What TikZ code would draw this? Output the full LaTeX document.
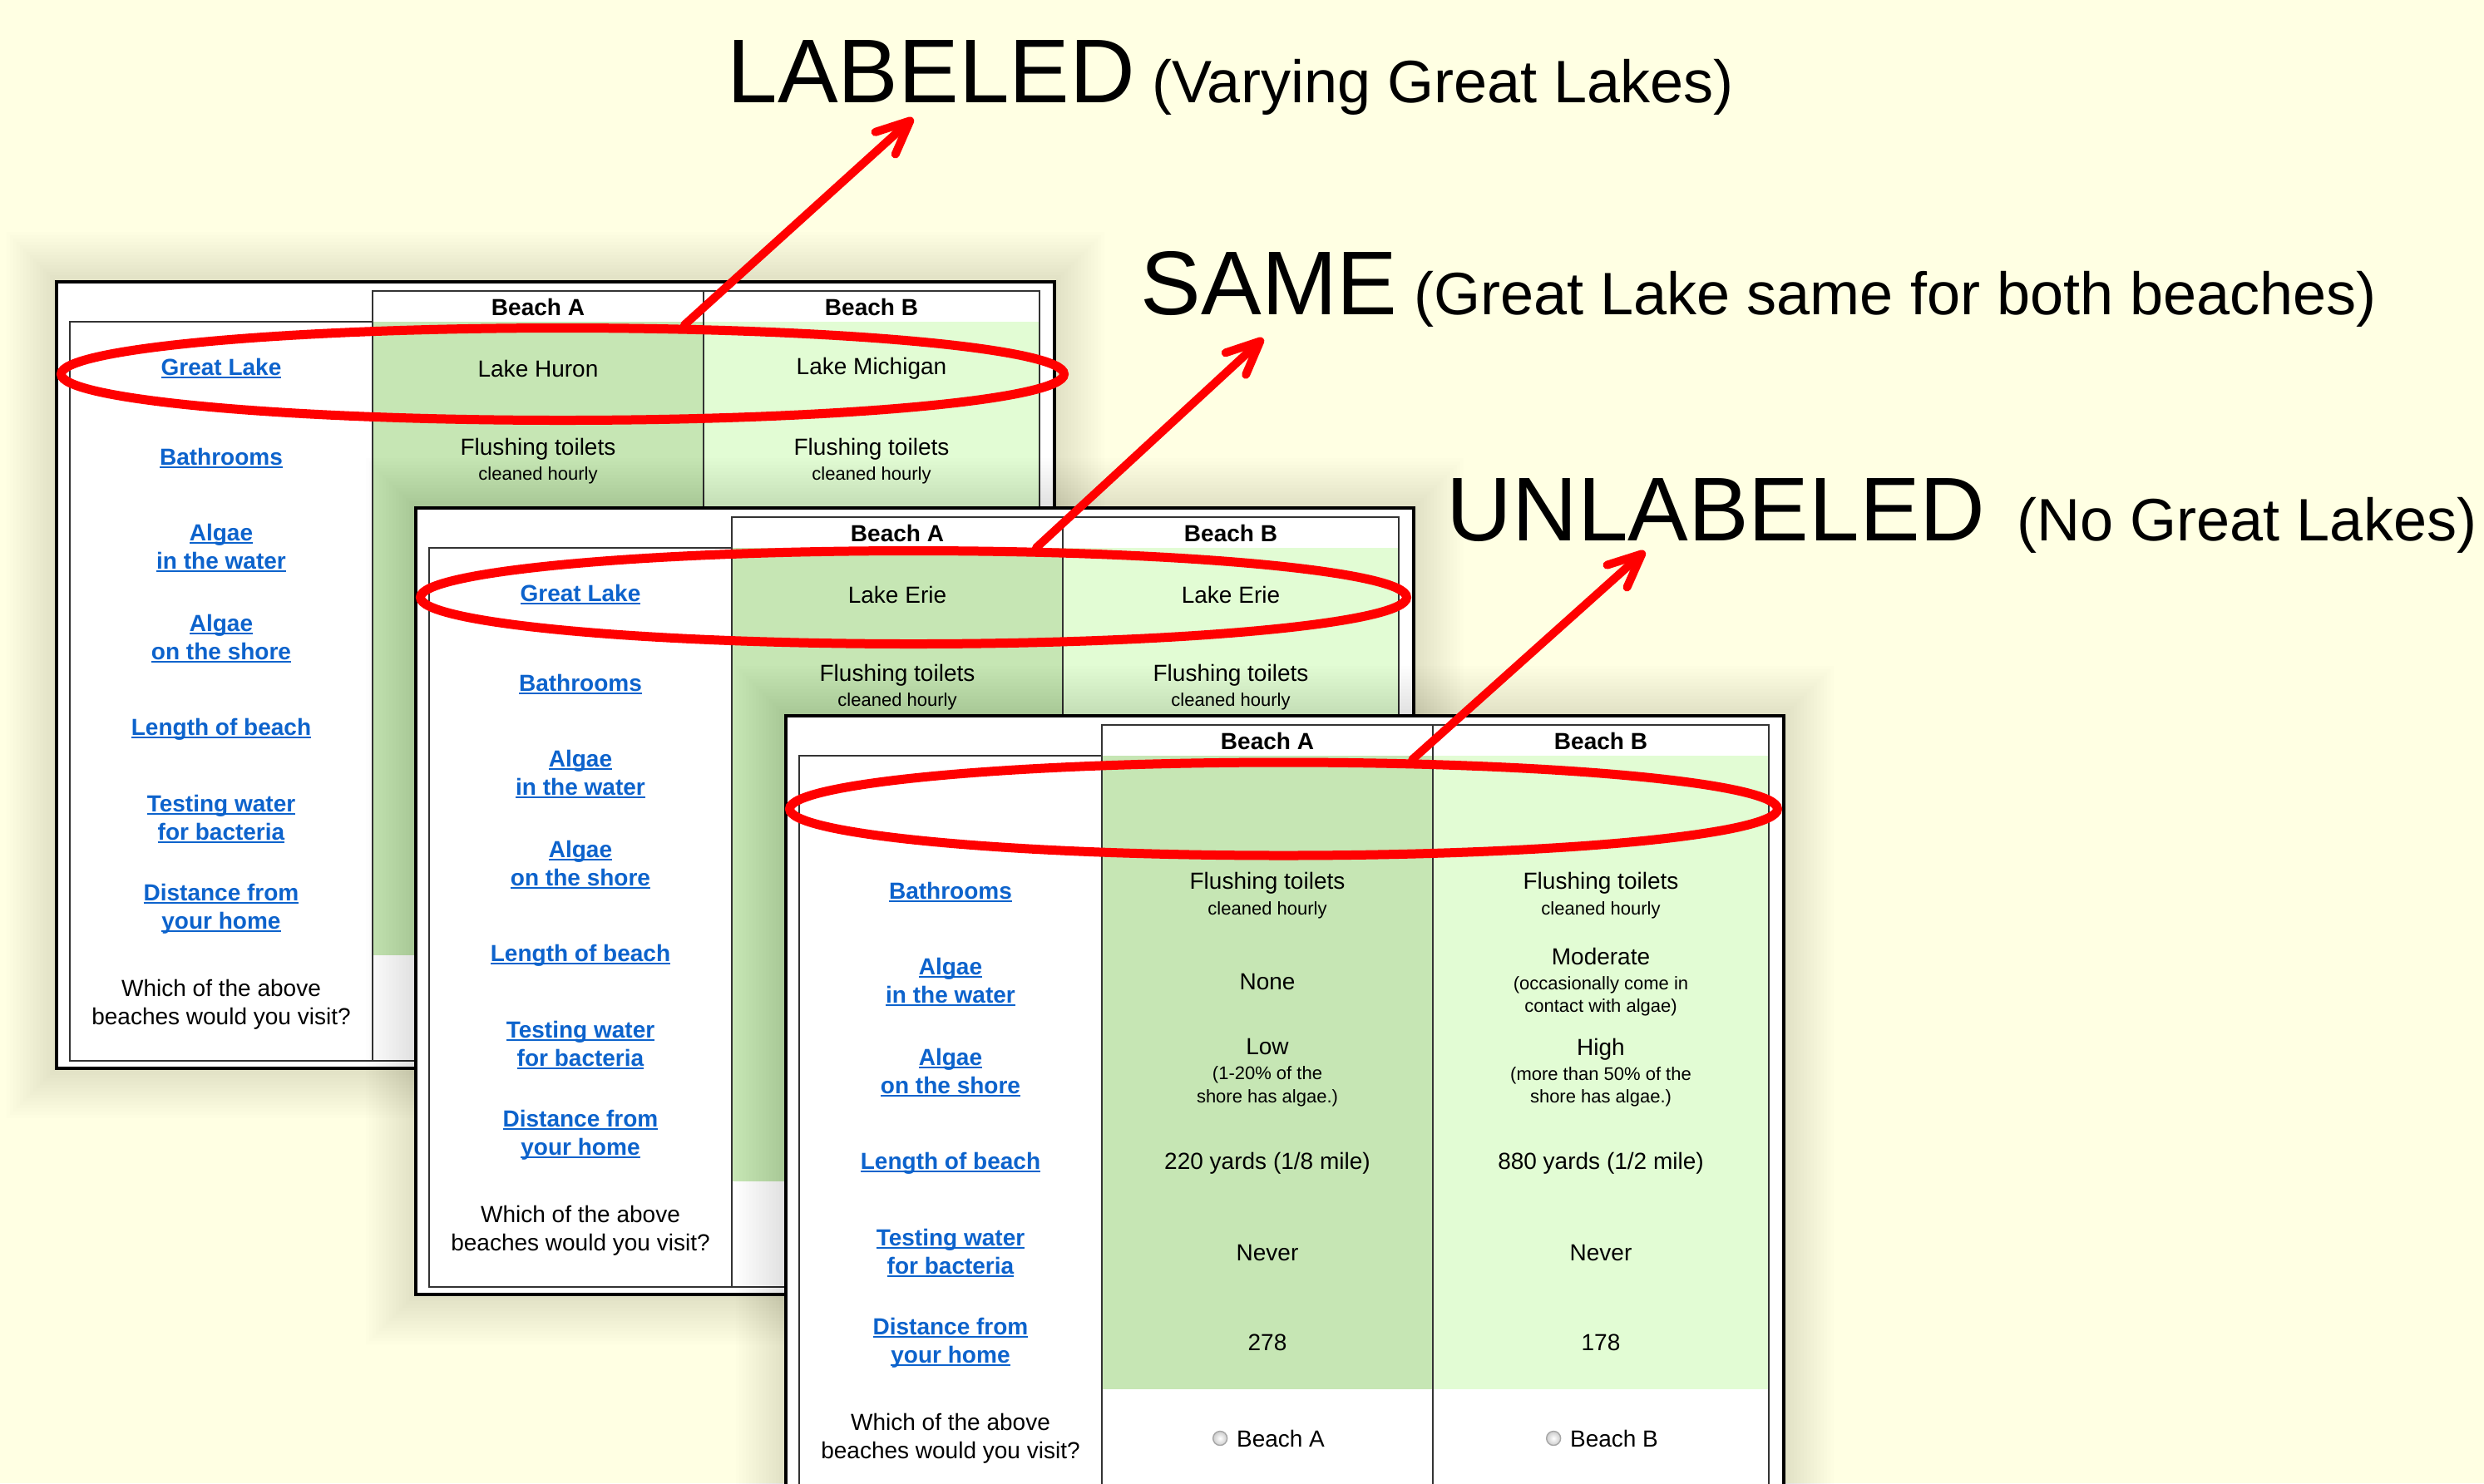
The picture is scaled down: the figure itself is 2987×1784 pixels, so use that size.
\documentclass[tikz,border=0pt]{standalone}
\usepackage{fontspec}
\setmainfont{Liberation Sans}
\usetikzlibrary{arrows.meta,positioning,shapes.geometric}
\definecolor{paper}{HTML}{FFFFE3}
\definecolor{colA}{HTML}{C6E6B4}
\definecolor{colB}{HTML}{E2FCD4}
\definecolor{linkblue}{HTML}{0D63CC}
\definecolor{markred}{HTML}{FF0000}
\newcommand{\cellfont}{\fontsize{7.97}{9.6}\selectfont}
\newcommand{\datafont}{\fontsize{7.97}{8.6}\selectfont}
\newcommand{\smallfont}{\fontsize{6.26}{7.7}\selectfont}
\newcommand{\bigfont}{\fontsize{31}{36}\selectfont}
\newcommand{\subfont}{\fontsize{20.5}{24}\selectfont}
\newcommand{\lnk}[1]{{\bfseries\color{linkblue}\setbox0\hbox{#1}%
  \rlap{\rule[-1.1pt]{\wd0}{0.55pt}}\box0}}

% one survey panel: name, top-left corner, first row label, lake A, lake B
\newcommand{\beachpanel}[5]{%
  \begin{scope}[shift={#2}]
    \foreach \g in {1,...,15}
      \fill[glow] (-4*\g,-4*\g) rectangle (1200+4*\g,946+4*\g);
    \fill[white] (0,0) rectangle (1200,946);
    \fill[colA] (380,48) rectangle (778,810);
    \fill[colB] (778,48) rectangle (1182,810);
    \draw[grid] (16,937) |- (380,48) |- (1182,11) -- (1182,937) -- cycle;
    \draw[grid] (380,48) -- (380,937) (778,11) -- (778,937);
    \draw[frame] (0,0) rectangle (1200,946);
    \node[head] (#1-hA) at (579,30) {Beach A};
    \node[head] (#1-hB) at (980,30) {Beach B};
    \node[cell] (#1-l1) at (198,104) {#3};
    \node[cell] (#1-l2) at (198,212) {\lnk{Bathrooms}};
    \node[cell] (#1-l3) at (198,320) {\lnk{Algae}\\\lnk{in the water}};
    \node[cell] (#1-l4) at (198,429) {\lnk{Algae}\\\lnk{on the shore}};
    \node[cell] (#1-l5) at (198,538) {\lnk{Length of beach}};
    \node[cell] (#1-l6) at (198,646) {\lnk{Testing water}\\\lnk{for bacteria}};
    \node[cell] (#1-l7) at (198,754) {\lnk{Distance from}\\\lnk{your home}};
    \node[cell] (#1-l8) at (198,869) {Which of the above\\beaches would you visit?};
    \node[data] (#1-a1) at (579,104) {#4};
    \node[data] (#1-b1) at (980,104) {#5};
    \node[data] (#1-a2) at (579,216) {Flushing toilets\\\smallfont cleaned hourly};
    \node[data] (#1-b2) at (980,216) {Flushing toilets\\\smallfont cleaned hourly};
  \end{scope}}

\begin{document}
\begin{tikzpicture}[x=0.1mm, y=-0.1mm,
    glow/.style={fill=black, opacity=0.009},
    frame/.style={draw=black, line width=0.45mm},
    grid/.style={draw=black!80, line width=0.25mm},
    head/.style={font=\cellfont\bfseries, inner sep=0},
    cell/.style={font=\cellfont, align=center, inner sep=0},
    data/.style={font=\datafont, align=center, inner sep=0},
    radio/.style={circle, minimum size=1.7mm, inner sep=0, draw=black!35,
                  inner color=white, outer color=black!20},
    ring/.style={ellipse, draw=markred, line width=1.1mm, inner sep=0},
    arr/.style={-{Straight Barb[round, length=4mm, width=3.6mm]}, draw=markred,
                line width=1mm, line cap=round},
    title/.style={anchor=base west, inner sep=0}
  ]
  \useasboundingbox (0,0) rectangle (2987,1784);
  \clip (0,0) rectangle (2987,1784);
  \fill[paper] (0,0) rectangle (2987,1784);

  % the three survey versions
  \beachpanel{p1}{(68,339)}{\lnk{Great Lake}}{Lake Huron}{Lake Michigan}
  \beachpanel{p2}{(500,611)}{\lnk{Great Lake}}{Lake Erie}{Lake Erie}
  \beachpanel{p3}{(945,861)}{}{}{}

  \begin{scope}[shift={(945,861)}]
    \node[data] (p3-a3) at (579,320) {None};
    \node[data] (p3-b3) at (980,320) {Moderate\\\smallfont(occasionally come in\\[-0.8pt]\smallfont contact with algae)};
    \node[data] (p3-a4) at (579,429) {Low\\\smallfont(1-20\% of the\\[-0.8pt]\smallfont shore has algae.)};
    \node[data] (p3-b4) at (980,429) {High\\\smallfont(more than 50\% of the\\[-0.8pt]\smallfont shore has algae.)};
    \node[data] (p3-a5) at (579,538) {220 yards (1/8 mile)};
    \node[data] (p3-b5) at (980,538) {880 yards (1/2 mile)};
    \node[data] (p3-a6) at (579,646) {Never};
    \node[data] (p3-b6) at (980,646) {Never};
    \node[data] (p3-a7) at (579,754) {278};
    \node[data] (p3-b7) at (980,754) {178};
    \node[data] (p3-visA) at (595,869) {Beach A};
    \node[data] (p3-visB) at (996,869) {Beach B};
    \node[radio, left=1mm of p3-visA] (p3-radA) {};
    \node[radio, left=1mm of p3-visB] (p3-radB) {};
  \end{scope}

  % red marks round the Great Lake rows
  \node[ring, minimum width=120.6mm, minimum height=11.1mm] (lab-ring) at (676.5,450) {};
  \node[ring, minimum width=118.6mm, minimum height=11.2mm] (same-ring) at (1098.5,718.5) {};
  \node[ring, minimum width=118.8mm, minimum height=11.2mm] (unl-ring) at (1543.5,973) {};

  \node[title] (labeled) at (874,123) {\bigfont LABELED{\subfont\ (Varying Great Lakes)}};
  \node[title] (same) at (1371,378) {\bigfont SAME{\subfont\ (Great Lake same for both beaches)}};
  \node[title] (unlabeled) at (1739,650) {\bigfont UNLABELED{\subfont\ \hspace{1.8mm}(No Great Lakes)}};

  \coordinate (lab-tip) at (1098,142);
  \coordinate (same-tip) at (1519,407);
  \coordinate (unl-tip) at (1978,663);
  \draw[arr] (lab-ring.22) -- (lab-tip);
  \draw[arr] (same-ring.22) -- (same-tip);
  \draw[arr] (unl-ring.21) -- (unl-tip);
\end{tikzpicture}
\end{document}
